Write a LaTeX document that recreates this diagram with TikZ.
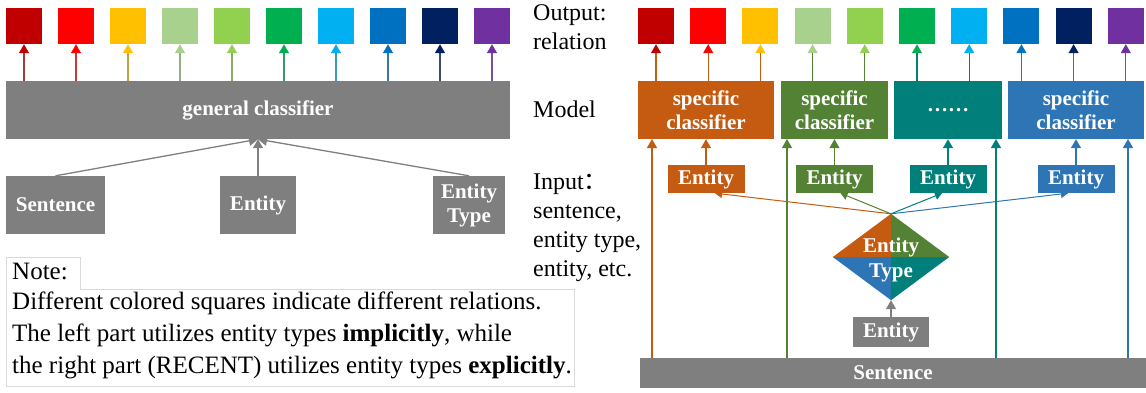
\documentclass[tikz,border=0pt]{standalone}
\usepackage{fontspec}
\setmainfont{Liberation Serif}
\newfontfamily\cjk{Noto Sans CJK SC}
\usetikzlibrary{arrows.meta,positioning,shapes.geometric}

\definecolor{rel1}{HTML}{C00000}
\definecolor{rel2}{HTML}{FF0000}
\definecolor{rel3}{HTML}{FFC000}
\definecolor{rel4}{HTML}{A9D18E}
\definecolor{rel5}{HTML}{92D050}
\definecolor{rel6}{HTML}{00B050}
\definecolor{rel7}{HTML}{00B0F0}
\definecolor{rel8}{HTML}{0070C0}
\definecolor{rel9}{HTML}{002060}
\definecolor{rel10}{HTML}{7030A0}
\definecolor{orng}{HTML}{C55A11}
\definecolor{grn}{HTML}{548235}
\definecolor{tealc}{HTML}{007F7B}
\definecolor{blu}{HTML}{2E75B6}
\definecolor{gry}{HTML}{7F7F7F}

\newcommand{\boxfont}{\bfseries\fontsize{21}{24}\selectfont}
\newcommand{\lblfont}{\fontsize{24}{29}\selectfont}
\newcommand{\notefont}{\fontsize{25}{32}\selectfont}

\begin{document}
\begin{tikzpicture}[x=1pt,y=-1pt,
        relsq/.style={minimum size=36pt,inner sep=0pt},
        clbox/.style={fill=#1,text=white,inner sep=0pt,align=center,font=\boxfont},
        lbl/.style={anchor=north west,inner sep=0pt,align=left,font=\lblfont},
        outarr/.style={line width=1.3pt,-{Triangle[length=9pt,width=10pt]}},
        smallarr/.style={line width=1pt,-{Triangle[length=7pt,width=8pt]}}]
    \useasboundingbox (0,0) rectangle (1146,392);

    % relation squares
    \foreach \i in {1,...,10}{
        \node[relsq,fill=rel\i] (ls\i) at ({24+52*(\i-1)},26) {};
        \node[relsq,fill=rel\i] (rs\i) at ({656+52.2*(\i-1)},26) {};
    }

    % left part
    \node[clbox=gry,minimum width=504pt,minimum height=58pt] (gen) at (258,110) {general classifier};
    \foreach \i in {1,...,10}
        \draw[outarr,draw=rel\i!55!gry,-{Triangle[length=9pt,width=10pt,color=rel\i]}] (gen.north -| ls\i) -- (ls\i.south);
    \node[clbox=gry,minimum width=99pt,minimum height=58pt] (sen) at (55.5,205) {Sentence};
    \node[clbox=gry,minimum width=76pt,minimum height=58pt] (ent) at (258,205) {Entity};
    \node[clbox=gry,minimum width=72pt,minimum height=58pt] (ety) at (469,205) {Entity\\Type};
    \foreach \n in {sen,ent,ety}
        \draw[outarr,draw=gry] (\n.north) -- (gen.south);

    % labels
    \node[lbl] (lout) at (533,4) {Output:\\relation};
    \node[lbl] (lmod) at (533,101) {Model};
    \node[lbl] (linp) at (533,174) {Input{\cjk ：}\\sentence,\\entity type,\\entity, etc.};

    % note
    \draw[gray!30,line width=0.8pt] (6,257) -- (80,257) -- (80,289) -- (574,289) -- (574,386) -- (6,386) -- cycle;
    \node[anchor=north west,inner sep=0pt,font=\notefont] (nhead) at (12,263) {Note:};
    \node[anchor=north west,inner sep=0pt,align=left,font=\notefont] (ntext) at (12,292)
        {Different colored squares indicate different relations.\\
         The left part utilizes entity types \textbf{implicitly}, while\\
         the right part (RECENT) utilizes entity types \textbf{explicitly}.};

    % right part: specific classifiers
    \node[clbox=orng,minimum width=136pt,minimum height=58pt] (c1) at (706,110) {specific\\classifier};
    \node[clbox=grn,minimum width=107pt,minimum height=58pt] (c2) at (834.5,110) {specific\\classifier};
    \node[clbox=tealc,minimum width=108pt,minimum height=58pt] (c3) at (948,110) {……};
    \node[clbox=blu,minimum width=136pt,minimum height=58pt] (c4) at (1076,110) {specific\\classifier};
    \foreach \b/\col/\i in {c1/orng/1,c1/orng/2,c1/orng/3,c2/grn/4,c2/grn/5,c3/tealc/6,c3/tealc/7,c4/blu/8,c4/blu/9,c4/blu/10}
        \draw[outarr,draw=\col,-{Triangle[length=9pt,width=10pt,color=rel\i]}] (\b.north -| rs\i) -- (rs\i.south);

    % entities per classifier
    \node[clbox=orng,minimum width=77pt,minimum height=28pt] (e1) at (706,179) {Entity};
    \node[clbox=grn,minimum width=77pt,minimum height=28pt] (e2) at (834.5,179) {Entity};
    \node[clbox=tealc,minimum width=77pt,minimum height=28pt] (e3) at (948,179) {Entity};
    \node[clbox=blu,minimum width=77pt,minimum height=28pt] (e4) at (1076,179) {Entity};
    \foreach \e/\b/\col in {e1/c1/orng,e2/c2/grn,e3/c3/tealc,e4/c4/blu}
        \draw[outarr,draw=\col] (\e.north) -- (\e.north |- \b.south);

    % entity type diamond
    \node[diamond,minimum width=116pt,minimum height=86pt,inner sep=0pt] (etype) at (891,257) {};
    \fill[orng] (etype.north) -- (etype.west) -- (etype.center) -- cycle;
    \fill[grn] (etype.north) -- (etype.east) -- (etype.center) -- cycle;
    \fill[blu] (etype.south) -- (etype.west) -- (etype.center) -- cycle;
    \fill[tealc] (etype.south) -- (etype.east) -- (etype.center) -- cycle;
    \node[text=white,align=center,inner sep=0pt,font=\bfseries\fontsize{21}{25}\selectfont] (etxt) at ([yshift=-3pt]etype.center) {Entity\\Type};
    \foreach \e/\col/\dx in {e1/orng/9,e2/grn/6,e3/tealc/-6,e4/blu/-8}
        \draw[smallarr,draw=\col] (etype.north) -- ([xshift=\dx pt]\e.south);

    \node[clbox=gry,minimum width=76pt,minimum height=30pt] (eg) at (891,332) {Entity};
    \draw[outarr,draw=gry] (eg.north) -- (etype.south);

    % sentence bar and long inputs
    \node[clbox=gry,minimum width=506pt,minimum height=30pt] (sbar) at (893,373) {Sentence};
    \coordinate (in1) at (652,139);
    \coordinate (in2) at (787,139);
    \coordinate (in3) at (996,139);
    \coordinate (in4) at (1128,139);
    \foreach \p/\col in {in1/orng,in2/grn,in3/tealc,in4/blu}
        \draw[outarr,draw=\col] (\p |- sbar.north) -- (\p);
\end{tikzpicture}
\end{document}
